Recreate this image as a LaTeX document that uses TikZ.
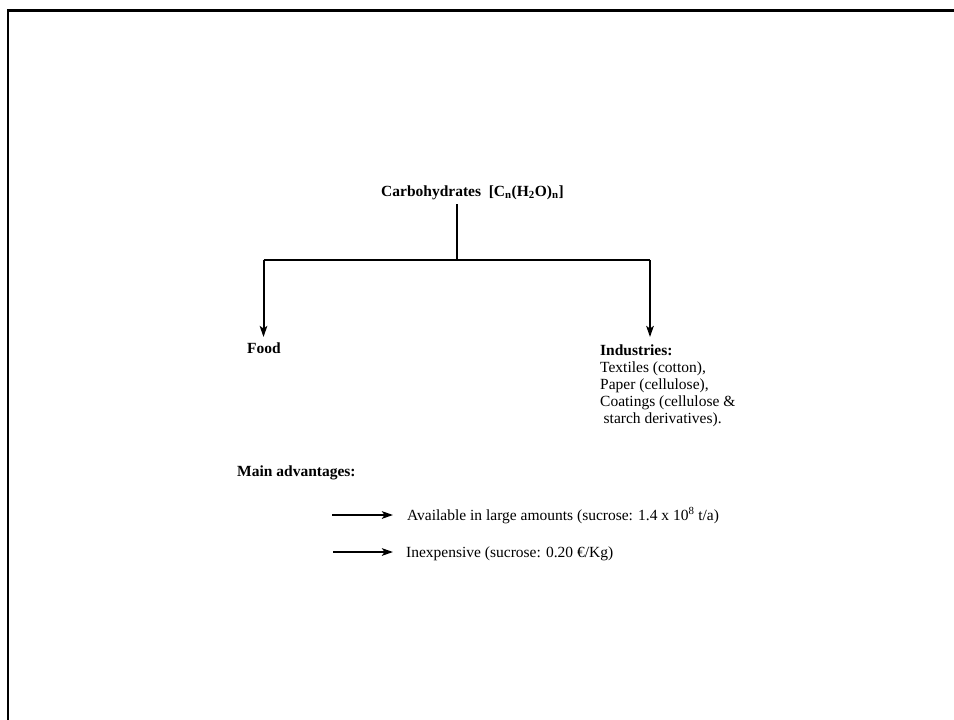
\documentclass[tikz,border=0pt]{standalone}
\usepackage{fontspec}
\setmainfont{Liberation Serif}
\usetikzlibrary{arrows.meta}
\begin{document}
\begin{tikzpicture}[x=1pt,y=-1pt,
  txt/.style={inner sep=0pt,font=\fontsize{15.5}{17}\selectfont},
  bold/.style={txt,font=\fontsize{15.5}{17}\selectfont\bfseries},
  link/.style={line width=2pt},
  arrowlink/.style={link,-{Stealth[length=11pt,width=7.5pt,inset=2.5pt]}}]
\useasboundingbox (0,0) rectangle (954,720);
\fill[white] (0,0) rectangle (954,720);
% page frame (top and left edges)
\draw[line width=2.2pt,line join=miter] (8.3,722) -- (8.3,10.5) -- (956,10.5);

% root label
\node[bold,anchor=base west] (root) at (381,196)
  {Carbohydrates~~[C\textsubscript{n}(H\textsubscript{2}O)\textsubscript{n}]};
\coordinate (stemtop) at (457,204);
\coordinate (split) at (457,260);
\coordinate (lcorner) at (263.5,260);
\coordinate (rcorner) at (650,260);
\coordinate (ltip) at (263.5,337);
\coordinate (rtip) at (650,337);

% branches
\node[bold,anchor=base west] (food) at (247,353) {Food};
\node[txt,anchor=north west,align=left] (ind) at (600,344.5)
  {\textbf{Industries:}\\
   Textiles (cotton),\\
   Paper (cellulose),\\
   Coatings (cellulose \&\\
   \hspace*{3.5pt}starch derivatives).};

\draw[link] (stemtop) -- (split);
\draw[link,line join=miter] (lcorner) -- (rcorner);
\draw[arrowlink] (lcorner) -- (ltip);
\draw[arrowlink] (rcorner) -- (rtip);

% advantages
\node[bold,anchor=base west] (adv) at (237,476) {Main advantages:};
\coordinate (a1s) at (332,515);
\coordinate (a1e) at (393,515);
\coordinate (a2s) at (333,552);
\coordinate (a2e) at (393,552);
\node[txt,anchor=base west] (adv1) at (407,520)
  {Available in large amounts (sucrose: 1.4 x 10\textsuperscript{8} t/a)};
\node[txt,anchor=base west] (adv2) at (406,557)
  {Inexpensive (sucrose: 0.20 €/Kg)};
\draw[arrowlink] (a1s) -- (a1e);
\draw[arrowlink] (a2s) -- (a2e);
\end{tikzpicture}
\end{document}
